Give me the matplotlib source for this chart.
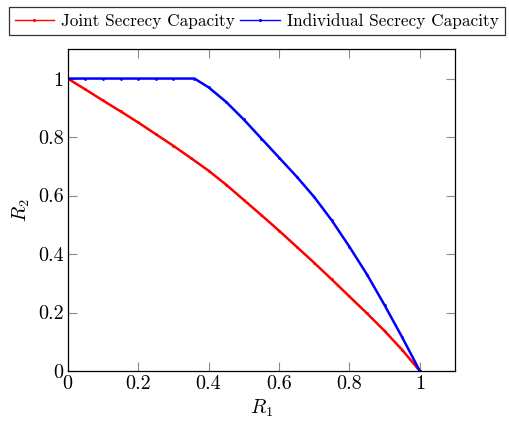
import matplotlib
matplotlib.use("Agg")
import matplotlib.pyplot as plt

# values
r1_joint = [0.0, 0.05, 0.1, 0.15, 0.2, 0.25, 0.3, 0.35, 0.4, 0.45, 0.5,
            0.55, 0.6, 0.65, 0.7, 0.75, 0.8, 0.85, 0.9, 0.95, 1.0]
r2_joint = [1.0, 0.963, 0.925, 0.888, 0.850, 0.810, 0.770, 0.728, 0.685, 0.637, 0.585,
            0.533, 0.480, 0.425, 0.370, 0.313, 0.255, 0.197, 0.137, 0.072, 0.0]

r1_indiv = [0.0, 0.05, 0.1, 0.15, 0.2, 0.25, 0.3, 0.36, 0.4, 0.45, 0.5,
            0.55, 0.6, 0.65, 0.7, 0.75, 0.8, 0.85, 0.9, 0.95, 1.0]
r2_indiv = [1.0, 1.0, 1.0, 1.0, 1.0, 1.0, 1.0, 1.0, 0.97, 0.92, 0.86,
            0.795, 0.73, 0.665, 0.595, 0.515, 0.425, 0.33, 0.225, 0.115, 0.0]

ticks = [0, 0.2, 0.4, 0.6, 0.8, 1]
tick_labels = ["0", "0.2", "0.4", "0.6", "0.8", "1"]

plt.rcParams["font.family"] = ["cmr10", "DejaVu Serif"]
plt.rcParams["mathtext.fontset"] = "cm"
plt.rcParams["axes.formatter.use_mathtext"] = True

fig = plt.figure(figsize=(5.09, 4.25), dpi=100)
ax = fig.add_axes([0.133, 0.127, 0.761, 0.757])

ax.plot(r1_joint, r2_joint, color="red", linewidth=1.8, marker=".", markersize=2,
        label="Joint Secrecy Capacity")
ax.plot(r1_indiv, r2_indiv, color="blue", linewidth=1.8, marker=".", markersize=2,
        label="Individual Secrecy Capacity")

ax.set_xlim(0, 1.1)
ax.set_ylim(0, 1.1)
ax.set_xticks(ticks)
ax.set_xticklabels(tick_labels)
ax.set_yticks(ticks)
ax.set_yticklabels(tick_labels)
ax.tick_params(direction="in", length=6.5, width=0.8, color="0.55",
               top=True, right=True, labelsize=14.5, pad=3)
for s in ax.spines.values():
    s.set_linewidth(0.9)
    s.set_color("black")

ax.set_xlabel("$R_1$", fontsize=14.5, labelpad=3)
ax.set_ylabel("$R_2$", fontsize=14.5, labelpad=4)

handles, labels = ax.get_legend_handles_labels()
leg = fig.legend(handles, labels, loc="upper center", bbox_to_anchor=(0.504, 0.984),
                 ncol=2, frameon=True, fancybox=False, edgecolor="black",
                 fontsize=12.4, columnspacing=0.3, handlelength=2.3,
                 handletextpad=0.4, borderpad=0.35, borderaxespad=0)
leg.get_frame().set_linewidth(0.9)
for line in leg.get_lines():
    line.set_linewidth(1.0)
    line.set_markersize(2.5)

fig.savefig("out.png", dpi=100)
